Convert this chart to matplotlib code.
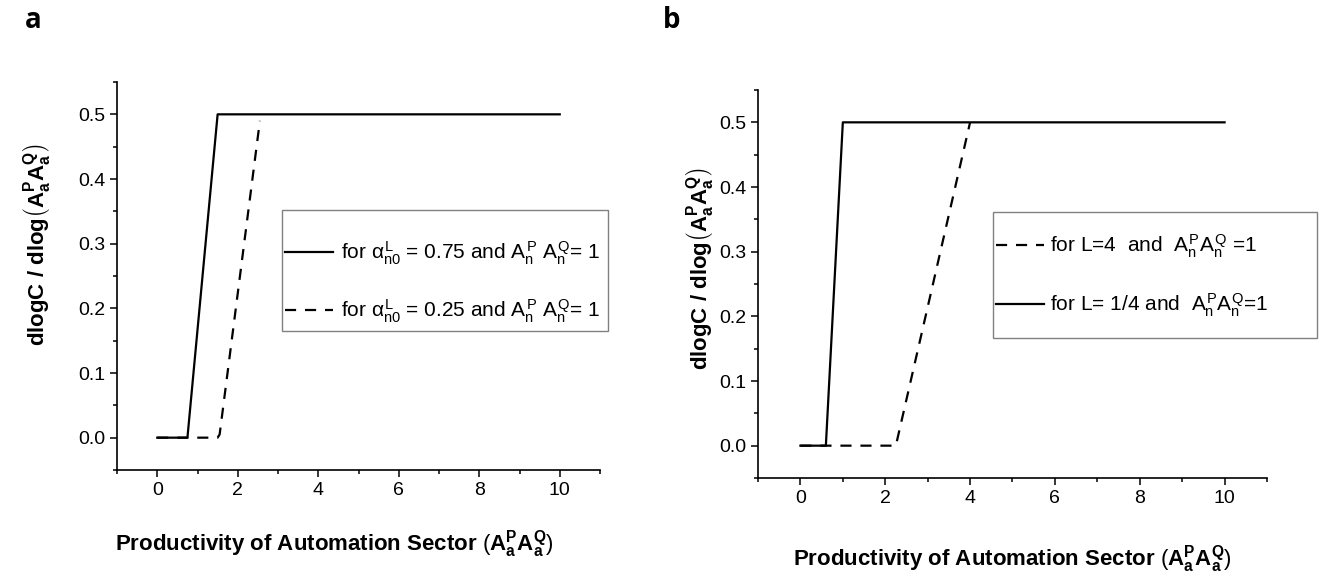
import matplotlib
matplotlib.use("Agg")
import matplotlib.pyplot as plt
from matplotlib.patches import Rectangle
from matplotlib.ticker import MultipleLocator

plt.rcParams['font.family'] = ['Liberation Sans', 'DejaVu Sans']
plt.rcParams['mathtext.fontset'] = 'custom'
plt.rcParams['mathtext.rm'] = 'Liberation Sans'
plt.rcParams['mathtext.it'] = 'Liberation Sans'
plt.rcParams['mathtext.bf'] = 'Liberation Sans:bold'

# panel a: dlogC / dlog(A_a^P A_a^Q) for two alpha values
a_x_075 = [0, 0.75, 1.5, 10]
a_y_075 = [0, 0, 0.5, 0.5]
a_x_025 = [0, 1.5, 1.55, 2.55]
a_y_025 = [0, 0, 0.005, 0.49]

# panel b: two labour ratios
b_x_L4 = [0, 2.25, 4.0]
b_y_L4 = [0, 0, 0.5]
b_x_Lq = [0, 0.6, 1.0, 10]
b_y_Lq = [0, 0, 0.5, 0.5]

xticks = [0, 2, 4, 6, 8, 10]
yticks = [0.0, 0.1, 0.2, 0.3, 0.4, 0.5]

ylab = r'dlogC / dlog$\left(\mathbf{A}_{\mathbf{a}}^{\mathbf{P}}\mathbf{A}_{\mathbf{a}}^{\mathbf{Q}}\right)$'
xlab = r'Productivity of Automation Sector $(\mathbf{A}_{\mathbf{a}}^{\mathbf{P}}\mathbf{A}_{\mathbf{a}}^{\mathbf{Q}})$'

lab_a1 = r'for $\alpha_{n0}^{L}$ = 0.75 and $A_{n}^{P}\ A_{n}^{Q}$= 1'
lab_a2 = r'for $\alpha_{n0}^{L}$ = 0.25 and $A_{n}^{P}\ A_{n}^{Q}$= 1'
lab_b1 = r'for L=4  and  $A_{n}^{P}A_{n}^{Q}$ =1'
lab_b2 = r'for L= 1/4 and  $A_{n}^{P}A_{n}^{Q}$=1'

W, H = 1336, 577
fig = plt.figure(figsize=(W / 100, H / 100), dpi=100)


def box(l, t, r, b):
    return [l / W, 1 - b / H, (r - l) / W, (b - t) / H]


def style(ax):
    for s in ['top', 'right']:
        ax.spines[s].set_visible(False)
    for s in ['left', 'bottom']:
        ax.spines[s].set_linewidth(1.2)
    ax.set_xlim(-1, 11)
    ax.set_ylim(-0.05, 0.55)
    ax.set_xticks(xticks)
    ax.set_yticks(yticks)
    ax.set_yticklabels(['%.1f' % v for v in yticks])
    ax.xaxis.set_minor_locator(MultipleLocator(1))
    ax.yaxis.set_minor_locator(MultipleLocator(0.05))
    ax.tick_params(which='major', direction='out', length=5, width=1.1, labelsize=14)
    ax.tick_params(which='minor', direction='out', length=3, width=1.1)
    ax.set_ylabel(ylab, fontsize=16, fontweight='bold')
    ax.set_xlabel(xlab, fontsize=16, fontweight='bold')


def legend_box(ax, l, t, r, b):
    # frame drawn by hand so the padding can differ top/side
    x0, y0, w, h = box(l, t, r, b)
    ax.add_patch(Rectangle((x0, y0), w, h, transform=fig.transFigure, clip_on=False,
                           facecolor='white', edgecolor='#808080', lw=1.0, zorder=4))


dash = (0, (5, 4))
leg_kw = dict(loc='upper left', bbox_transform=fig.transFigure, frameon=False,
              handlelength=2.3, borderaxespad=0, borderpad=0)

ax1 = fig.add_axes(box(117, 82, 600, 470))
style(ax1)
ax1.xaxis.set_label_coords(0.45, -0.152)
ax1.yaxis.set_label_coords(-0.134, 0.58)
l1, = ax1.plot(a_x_075, a_y_075, color='black', lw=1.6)
l2, = ax1.plot(a_x_025, a_y_025, color='black', lw=1.6, linestyle=dash)
legend_box(ax1, 282, 210, 608, 331)
ax1.legend([l1, l2], [lab_a1, lab_a2], bbox_to_anchor=(285 / W, 1 - 240 / H),
           fontsize=15, labelspacing=1.45, handletextpad=0.4, **leg_kw)

ax2 = fig.add_axes(box(758, 90, 1267, 478))
style(ax2)
ax2.xaxis.set_label_coords(0.5, -0.17)
ax2.yaxis.set_label_coords(-0.085, 0.54)
l3, = ax2.plot(b_x_L4, b_y_L4, color='black', lw=1.6, linestyle=dash)
l4, = ax2.plot(b_x_Lq, b_y_Lq, color='black', lw=1.6)
legend_box(ax2, 993, 212, 1317, 338)
ax2.legend([l3, l4], [lab_b1, lab_b2], bbox_to_anchor=(996 / W, 1 - 233 / H),
           fontsize=15, labelspacing=1.5, handletextpad=0.3, **leg_kw)

fig.text(25 / W, 1 - 28 / H, 'a', fontsize=20, fontweight='bold', family='Open Sans', va='baseline')
fig.text(663 / W, 1 - 28 / H, 'b', fontsize=20, fontweight='bold', family='Open Sans', va='baseline')

fig.savefig('out.png', dpi=100)
